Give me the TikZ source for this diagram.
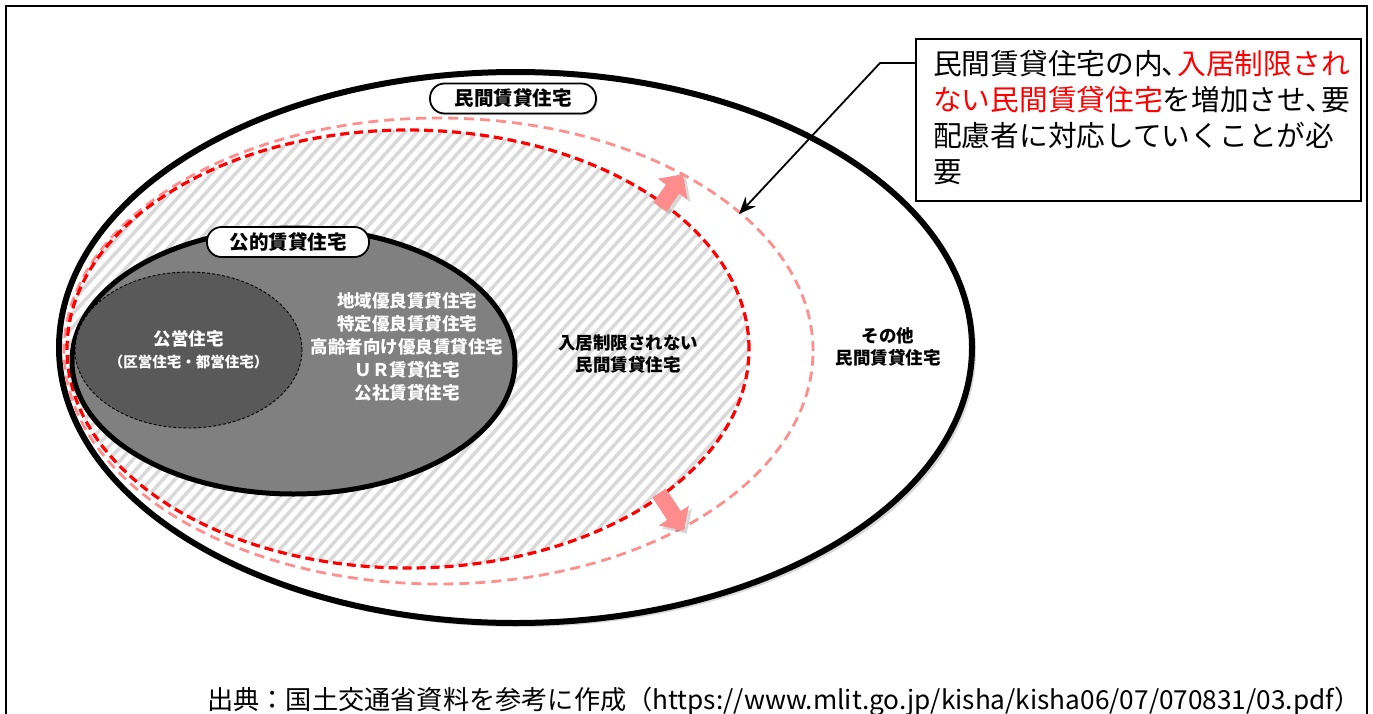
\documentclass[tikz,border=0pt]{standalone}
\usepackage{fontspec}
\setmainfont{Noto Sans CJK JP}
\usetikzlibrary{shadows,arrows.meta}
\definecolor{pinkline}{HTML}{FF8F8F}
\definecolor{arrowpink}{HTML}{FF8C8C}
\definecolor{pubgray}{HTML}{808080}
\definecolor{koeigray}{HTML}{595959}
\definecolor{hatchgray}{HTML}{D9D9D9}
\begin{document}
\begin{tikzpicture}[x=1pt,y=-1pt,
  pill/.style={draw, line width=1.8pt, fill=white, rounded corners=14.5pt,
    minimum height=30pt, inner sep=0pt,
    font=\bfseries\fontsize{19.5}{22}\selectfont,
    drop shadow={shadow xshift=1.5pt, shadow yshift=-1.5pt, opacity=0.35}},
  blockarrow/.style={fill=arrowpink, draw=none,
    drop shadow={shadow xshift=3pt, shadow yshift=-3pt, opacity=0.3}},
  lbltext/.style={align=center, font=\bfseries\fontsize{17.5}{22}\selectfont, inner sep=0pt},
]
\useasboundingbox (0,0) rectangle (1373,713);
% frame
\draw[line width=2pt] (6,760) -- (6,6) -- (1367,6) -- (1367,760);
% outer ellipse (private rental)
\draw[line width=6pt, fill=white,
  drop shadow={shadow xshift=4pt, shadow yshift=-4pt, opacity=0.3}]
  (515.5,347.5) ellipse [x radius=456.5pt, y radius=275.5pt];
% hatching inside red dashed ellipse
\begin{scope}
  \clip (408,349) ellipse [x radius=341pt, y radius=219pt];
  \foreach \i in {-600,-588,...,1100}
    \draw[hatchgray, line width=3.5pt] (\i,620) -- ++(470,-520);
\end{scope}
% pink dashed ellipse
\draw[pinkline, line width=2.8pt, dash pattern=on 10pt off 6pt]
  (438.5,351) ellipse [x radius=374.5pt, y radius=233pt];
% red dashed ellipse
\draw[red, line width=3.2pt, dash pattern=on 9pt off 5pt]
  (408,349) ellipse [x radius=341pt, y radius=219pt];
% public rental ellipse
\draw[line width=5pt, fill=pubgray]
  (293.5,361) ellipse [x radius=221.5pt, y radius=133pt];
% public housing ellipse
\draw[line width=0.9pt, dash pattern=on 3pt off 2pt, fill=koeigray]
  (188.5,350) ellipse [x radius=113.5pt, y radius=78pt];
% labels
\node[pill, minimum width=166pt] (lminkan) at (513,98.5) {民間賃貸住宅};
\node[pill, minimum width=162pt] (lkoteki) at (288,242) {公的賃貸住宅};
\node[lbltext, text=white, font=\bfseries\fontsize{17.5}{23}\selectfont] (tpub) at (407,347)
  {地域優良賃貸住宅\\特定優良賃貸住宅\\高齢者向け優良賃貸住宅\\ＵＲ賃貸住宅\\公社賃貸住宅};
\node[lbltext, text=white] (tkoei) at (188.5,350)
  {公営住宅\\{\fontsize{14.5}{17}\selectfont （区営住宅・都営住宅）}};
\node[lbltext] (tnyukyo) at (628,354) {入居制限されない\\民間賃貸住宅};
\node[lbltext] (tsonota) at (888,347) {その他\\民間賃貸住宅};
% expansion arrows
\begin{scope}[shift={(660,207)}, rotate=55]
  \path[blockarrow] (0,-8) -- (22,-8) -- (22,-18) -- (40,0) -- (22,18) -- (22,8) -- (0,8) -- cycle;
\end{scope}
\begin{scope}[shift={(659,493)}, rotate=-56.7]
  \path[blockarrow] (0,-8) -- (27,-8) -- (27,-18) -- (45,0) -- (27,18) -- (27,8) -- (0,8) -- cycle;
\end{scope}
% callout
\node[draw, line width=1.8pt, fill=white, minimum width=445pt, minimum height=162pt,
  inner sep=0pt] (cbox) at (1138.5,120) {};
\node[anchor=north west, inner sep=0pt, align=left,
  font=\fontsize{28.7}{36}\selectfont] (ctext) at (933,50)
  {民間賃貸住宅の内\kern-1pt、\kern-13pt\textcolor{red}{入居制限され}\\\textcolor{red}{ない民間賃貸住宅}を増加させ\kern-1pt、\kern-13pt要\\配慮者に対応していくことが必\\要};
\coordinate (cbend) at (880,63);
\coordinate (ptip) at (739,214);
\draw[line width=1.8pt, -{Stealth[length=17pt,width=14pt]}]
  (cbox.west |- cbend) -- (cbend) -- (ptip);
% source
\node[anchor=base west, inner sep=0pt, font=\fontsize{26.2}{30}\selectfont] (src) at (207,709)
  {出典：国土交通省資料を参考に作成（https://www.mlit.go.jp/kisha/kisha06/07/070831/03.pdf）};
\end{tikzpicture}
\end{document}
